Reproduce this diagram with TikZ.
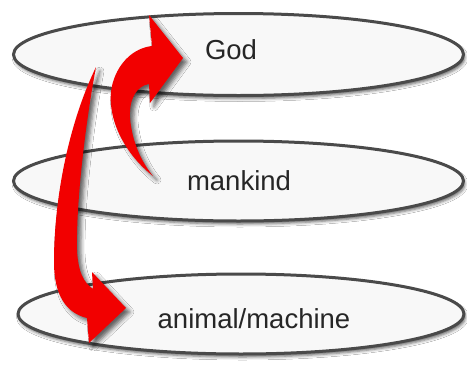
\documentclass[tikz,border=0pt]{standalone}
\usepackage{fontspec}
\setmainfont{Liberation Sans}
\usetikzlibrary{shapes.geometric,shadows.blur}
\definecolor{ringline}{HTML}{4A4A4A}
\definecolor{ringfill}{HTML}{F8F8F8}
\definecolor{arrowred}{HTML}{F20000}
\begin{document}
\begin{tikzpicture}[x=1pt,y=-1pt,
  level/.style={ellipse, draw=ringline, line width=3pt, fill=ringfill,
    inner sep=0pt,
    blur shadow={shadow xshift=1.5pt, shadow yshift=-3pt,
      shadow blur radius=3pt, shadow opacity=60}},
  caption/.style={font=\fontsize{27.5}{32}\selectfont, text=black!85},
  redsweep/.style={fill=arrowred,
    blur shadow={shadow xshift=4pt, shadow yshift=-4pt,
      shadow blur radius=4pt, shadow opacity=60}}]
\useasboundingbox (0,0) rectangle (467,365);
\fill[white] (0,0) rectangle (467,365);

% the three levels
\node[level, minimum width=450pt, minimum height=82pt] (god) at (238.5,54.5) {};
\node[level, minimum width=450pt, minimum height=80pt] (man) at (238.5,181) {};
\node[level, minimum width=446pt, minimum height=80pt] (animal) at (241,314) {};

\node[caption] (godtext) at (231,50) {God};
\node[caption] (mantext) at (239,181) {mankind};
\node[caption] (animaltext) at (254,319) {animal/machine};

% rising arrow: mankind up to God
\fill[redsweep] (153,176) .. controls (122,152) and (104,112) .. (113,82)
  .. controls (119,62) and (134,48) .. (152,46) -- (149,15) -- (183,58)
  -- (150,103) -- (149,84) .. controls (137,86) and (129,98) .. (130,118)
  .. controls (132,142) and (142,163) .. (153,176) -- cycle;

% falling arrow: God down to animal/machine
\fill[redsweep] (96,67) .. controls (86,120) and (76,200) .. (77,250)
  .. controls (78,272) and (84,283) .. (93,289) -- (92,272) -- (126,308)
  -- (89,343) -- (87,318) .. controls (66,313) and (54,295) .. (54,262)
  .. controls (54,200) and (68,125) .. (96,67) -- cycle;
\end{tikzpicture}
\end{document}
